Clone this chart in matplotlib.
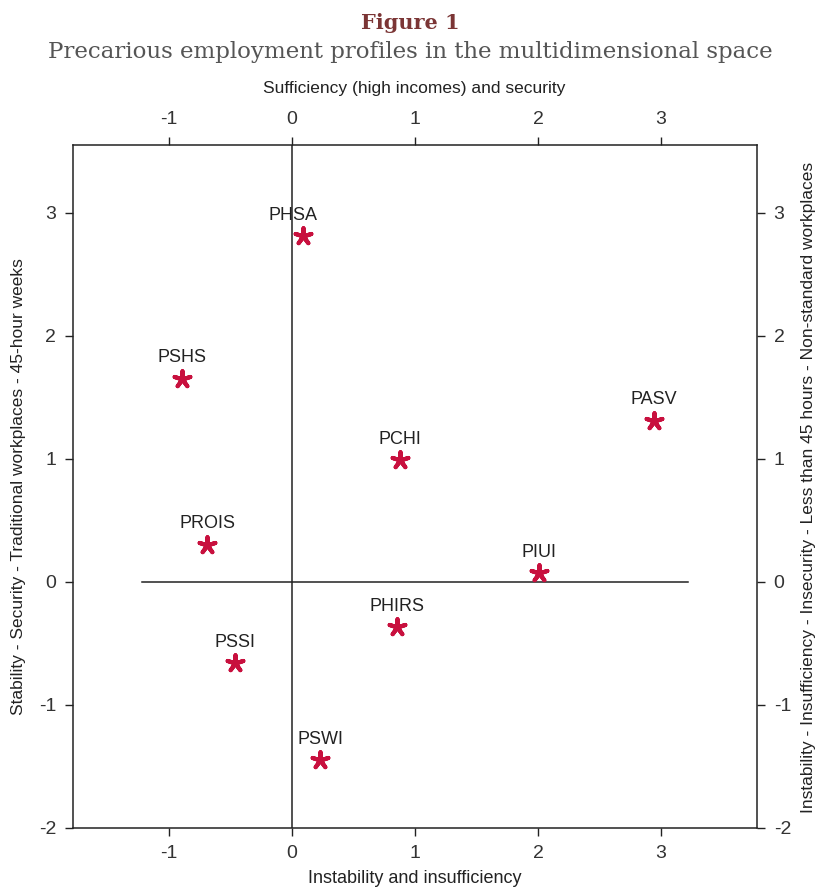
import matplotlib
matplotlib.use("Agg")
import matplotlib.pyplot as plt

plt.rcParams["axes.unicode_minus"] = False

# Employment profiles and their coordinates on the two dimensions
profiles = ["PHSA", "PSHS", "PCHI", "PASV", "PROIS", "PIUI", "PHIRS", "PSSI", "PSWI"]
dim1 = [0.09, -0.89, 0.88, 2.94, -0.69, 2.01, 0.85, -0.46, 0.23]
dim2 = [2.81, 1.65, 0.99, 1.31, 0.30, 0.07, -0.37, -0.66, -1.45]

x_ticks = [-1, 0, 1, 2, 3]
y_ticks = [-2, -1, 0, 1, 2, 3]

sans = ["Liberation Sans", "DejaVu Sans"]
serif = ["DejaVu Serif"]
mark_color = "#c8103e"
ink = "#222222"

fig = plt.figure(figsize=(8.21, 8.89), dpi=100)
ax = fig.add_axes([73 / 821, 1 - 828 / 889, (757 - 73) / 821, (828 - 145) / 889])

ax.set_xlim(-1.78, 3.78)
ax.set_ylim(-2.0, 3.55)

# reference axes through the origin
ax.plot([-1.22, 3.22], [0, 0], color=ink, lw=1.1, zorder=1)
ax.axvline(0, color=ink, lw=1.1, zorder=1)

ax.scatter(dim1, dim2, marker=(5, 2, 0), s=140, color=mark_color,
           linewidths=3.0, zorder=3)

nudge = {"PHSA": -7}
for name, x, y in zip(profiles, dim1, dim2):
    ax.annotate(name, (x, y), xytext=(nudge.get(name, 0), 9),
                textcoords="offset points", ha="center", va="bottom",
                fontsize=13, family=sans, color=ink)

for s in ax.spines.values():
    s.set_linewidth(1.1)
    s.set_color(ink)

ax.set_xticks(x_ticks)
ax.set_yticks(y_ticks)
ax.tick_params(direction="out", length=6, width=1, colors=ink,
               labelsize=14, top=True, right=True,
               labeltop=True, labelright=True, pad=6)
for lab in ax.get_xticklabels() + ax.get_yticklabels():
    lab.set_family(sans)
    lab.set_color("#333333")

ax.set_xlabel("Instability and insufficiency", fontsize=13, family=sans,
              color=ink, labelpad=6)
ax.set_ylabel("Stability - Security - Traditional workplaces - 45-hour weeks",
              fontsize=12.5, family=sans, color=ink, labelpad=9)

# labels for the opposite sides
fig.text(414 / 821, 1 - 89 / 889, "Sufficiency (high incomes) and security",
         ha="center", va="center", fontsize=12.5, family=sans, color=ink)
fig.text(808 / 821, 1 - 487 / 889,
         "Instability - Insufficiency - Insecurity - Less than 45 hours - Non-standard workplaces",
         ha="center", va="center", rotation=90, fontsize=12.5, family=sans,
         color=ink)

fig.text(0.5, 1 - 23 / 889, "Figure 1", ha="center", va="center",
         fontsize=15, fontweight="bold", family=serif, color="#7b3535")
fig.text(0.5, 1 - 52 / 889,
         "Precarious employment profiles in the multidimensional space",
         ha="center", va="center", fontsize=16.5, family=serif, color="#555555")

fig.savefig("out.png", dpi=100)
